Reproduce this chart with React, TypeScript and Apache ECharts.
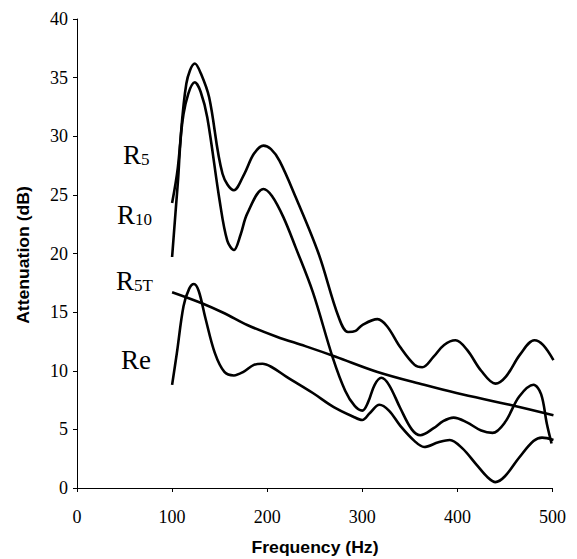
import React, { useEffect, useRef } from "react";
import * as echarts from "echarts";

const xTicks = [0, 100, 200, 300, 400, 500];
const yTicks = [0, 5, 10, 15, 20, 25, 30, 35, 40];

// [frequency (Hz), attenuation (dB)]
const r5: [number, number][] = [
  [100, 24.3], [106, 27.3], [115, 34.5], [124, 36.2], [130, 35.4], [139, 33.3], [153, 26.8],
  [165, 25.4], [176, 26.8], [186, 28.5], [196, 29.2], [204, 28.9], [213, 27.9], [230, 24.8],
  [254, 20], [275, 14.6], [285, 13.3], [293, 13.4], [300, 13.9], [316, 14.4], [326, 13.8],
  [340, 12], [355, 10.5], [363, 10.3], [375, 11.2], [386, 12.2], [398, 12.6], [410, 11.8],
  [425, 10], [440, 8.9], [451, 9.5], [466, 11.4], [481, 12.6], [490, 12.2], [501, 10.9],
];
const r10: [number, number][] = [
  [100, 19.7], [106, 26], [112, 31.9], [124, 34.6], [130, 33.8], [137, 31.6], [150, 24.5],
  [158, 21.1], [165, 20.3], [172, 21.6], [179, 23.4], [196, 25.5], [205, 24.9], [217, 23.1],
  [230, 20.5], [248, 16.7], [269, 11.1], [282, 8.3], [292, 7], [300, 6.6], [306, 7.3],
  [313, 8.8], [320, 9.4], [328, 8.8], [340, 6.8], [352, 5], [361, 4.5], [375, 5.1],
  [385, 5.7], [396, 6], [410, 5.6], [425, 4.9], [437, 4.7], [450, 5.6], [465, 7.8],
  [480, 8.8], [488, 8], [494, 5.5], [499, 3.8],
];
const r5t: [number, number][] = [
  [100, 16.7], [130, 15.8], [155, 14.9], [179, 13.9], [210, 12.9], [240, 12.1], [272, 11.2],
  [316, 9.9], [365, 8.8], [399, 8.1], [455, 7.1], [501, 6.2],
];
const re: [number, number][] = [
  [100, 8.8], [105, 11.5], [112, 15.5], [118, 17], [123, 17.4], [128, 16.8], [135, 14.5],
  [145, 11.5], [155, 9.9], [165, 9.6], [175, 9.9], [186, 10.5], [195, 10.6], [205, 10.3],
  [220, 9.5], [248, 8.1], [270, 6.9], [290, 6.1], [300, 5.8], [308, 6.4], [318, 7.1],
  [328, 6.6], [340, 5.3], [355, 4], [365, 3.5], [380, 3.9], [392, 4.1], [405, 3.4],
  [420, 2], [432, 0.9], [440, 0.5], [450, 1], [465, 2.6], [480, 4], [489, 4.3], [501, 4.1],
];

const seriesNames = ["R5", "R10", "R5T", "Re"];
const seriesData = [r5, r10, r5t, re];
const labelMain = ["R", "R", "R", "Re"];
const labelSub = ["5", "10", "5T", ""];
const xTitle = "Frequency (Hz)";
const yTitle = "Attenuation (dB)";

const serif = "'Liberation Serif', 'Times New Roman', serif";
const sans = "'Liberation Sans', Arial, Helvetica, sans-serif";

export default function App() {
  const ref = useRef<HTMLDivElement>(null);
  useEffect(() => {
    if (!ref.current) return;
    const chart = echarts.init(ref.current, null, { renderer: "svg" });
    const labelPos = [
      [115, 133],
      [109, 193],
      [108, 259],
      [113, 338],
    ];
    const seriesLabels = seriesNames.map((n, i) => ({
      type: "text",
      left: labelPos[i][0],
      top: labelPos[i][1],
      style: {
        text: labelSub[i] ? `{a|${labelMain[i]}}{b|${labelSub[i]}}` : `{a|${labelMain[i]}}`,
        fill: "#000",
        rich: {
          a: { fontFamily: serif, fontSize: 27, verticalAlign: "bottom", lineHeight: 28 },
          b: { fontFamily: serif, fontSize: 17, verticalAlign: "bottom", lineHeight: 24 },
        },
      },
    }));
    chart.setOption({
      animation: false,
      backgroundColor: "#fff",
      grid: { left: 69, right: 8, top: 11, bottom: 71, containLabel: false },
      xAxis: {
        type: "value",
        min: xTicks[0],
        max: xTicks[xTicks.length - 1],
        interval: 100,
        axisLine: { show: true, lineStyle: { color: "#000", width: 1 } },
        axisTick: { show: true, inside: false, length: 4, lineStyle: { color: "#000" } },
        axisLabel: { fontFamily: serif, fontSize: 18, color: "#000", margin: 20 },
        splitLine: { show: false },
      },
      yAxis: {
        type: "value",
        min: yTicks[0],
        max: yTicks[yTicks.length - 1],
        interval: 5,
        axisLine: { show: true, lineStyle: { color: "#000", width: 1 } },
        axisTick: { show: true, inside: false, length: 4, lineStyle: { color: "#000" } },
        axisLabel: { fontFamily: serif, fontSize: 18, color: "#000", margin: 9 },
        splitLine: { show: false },
      },
      series: seriesData.map((d, i) => ({
        name: seriesNames[i],
        type: "line",
        data: d,
        smooth: 0.35,
        symbol: "none",
        lineStyle: { color: "#000", width: 2.6 },
        silent: true,
      })),
      graphic: [
        ...seriesLabels,
        {
          type: "text",
          x: 307,
          y: 540,
          scaleX: 1.1,
          style: {
            text: xTitle,
            fill: "#000",
            font: `bold 16px ${sans}`,
            textAlign: "center",
            textVerticalAlign: "middle",
          },
        },
        {
          type: "text",
          x: 16,
          y: 247,
          rotation: Math.PI / 2,
          scaleX: 1.1,
          style: {
            text: yTitle,
            fill: "#000",
            font: `bold 16px ${sans}`,
            textAlign: "center",
            textVerticalAlign: "middle",
          },
        },
      ],
    });
    return () => chart.dispose();
  }, []);
  return <div ref={ref} style={{ width: 561, height: 551 }} />;
}
